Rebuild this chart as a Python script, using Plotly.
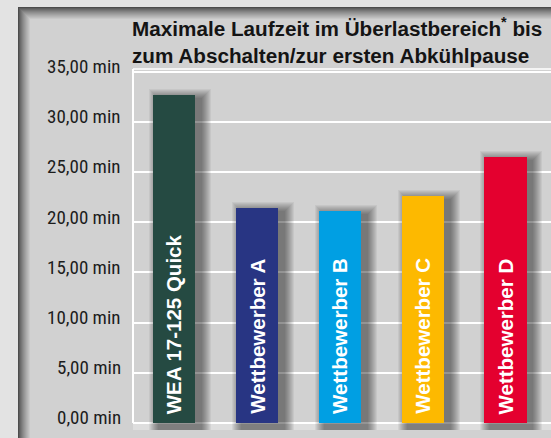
import plotly.graph_objects as go

categories = ["WEA 17-125 Quick", "Wettbewerber A", "Wettbewerber B", "Wettbewerber C", "Wettbewerber D"]
values = [32.7, 21.45, 21.1, 22.6, 26.5]
colors = ["#254a42", "#283583", "#009fe3", "#fdb900", "#e4002f"]
tick_values = [0, 5, 10, 15, 20, 25, 30, 35]
tick_labels = ["0,00 min", "5,00 min", "10,00 min", "15,00 min", "20,00 min", "25,00 min", "30,00 min", "35,00 min"]
title_text = "Maximale Laufzeit im Überlastbereich<sup>*</sup> bis<br>zum Abschalten/zur ersten Abkühlpause"

W, H = 551, 438
L, T, B, R = 133, 69, 8, 0
YMIN, YMAX = -0.7, 35.25
XMIN, XMAX = -0.5, 4.55
px_per_x = (W - L - R) / (XMAX - XMIN)
px_per_y = (H - T - B) / (YMAX - YMIN)

fig = go.Figure()
xs = list(range(len(categories)))
BW = 0.51

# soft drop shadows (layers)
NL = 10
for k in range(1, NL + 1):
    e = 1.0 * k
    wpx = 42 + 2 * e
    fig.add_trace(go.Bar(
        x=xs, y=[v - (4 - e) / px_per_y + 0.9 for v in values], base=-0.9,
        width=wpx / px_per_x, offset=-(wpx / 2 - 6) / px_per_x,
        marker=dict(color="rgba(0,0,0,0.05)", line=dict(width=0)),
        hoverinfo="skip", showlegend=False,
    ))

fig.add_trace(go.Bar(
    x=xs, y=values, width=BW,
    marker=dict(color=colors, line=dict(width=0)),
    hoverinfo="x+y", showlegend=False,
))

shapes = []
# outer light frame
shapes.append(dict(type="rect", xref="paper", yref="paper", xsizemode="pixel", ysizemode="pixel",
                   xanchor=0, yanchor=1, x0=-L, x1=W, y0=T, y1=T - 7,
                   fillcolor="#e3e3e3", line=dict(width=0), layer="below"))
shapes.append(dict(type="rect", xref="paper", yref="paper", xsizemode="pixel", ysizemode="pixel",
                   xanchor=0, yanchor=1, x0=-L, x1=-L + 18, y0=T, y1=-H,
                   fillcolor="#e3e3e3", line=dict(width=0), layer="below"))
# inner shadow of panel
n = 13
for i in range(n):
    t = i / (n - 1)
    g = int(0x4c + (0xd1 - 0x4c) * (t ** 0.8))
    col = "rgb(%d,%d,%d)" % (g, g, g)
    shapes.append(dict(type="rect", xref="paper", yref="paper", xsizemode="pixel", ysizemode="pixel",
                       xanchor=0, yanchor=1, x0=-L + 18 + i, x1=W, y0=T - 7 - i, y1=T - 8 - i,
                       fillcolor=col, line=dict(width=0), layer="below"))
    shapes.append(dict(type="rect", xref="paper", yref="paper", xsizemode="pixel", ysizemode="pixel",
                       xanchor=0, yanchor=1, x0=-L + 18 + i, x1=-L + 19 + i, y0=T - 7 - i, y1=-H,
                       fillcolor=col, line=dict(width=0), layer="below"))
# light band under baseline
shapes.append(dict(type="rect", xref="paper", yref="y", x0=0, x1=1, y0=YMIN, y1=0,
                   fillcolor="#dedede", line=dict(width=0), layer="below"))
# top frame line
shapes.append(dict(type="line", xref="paper", yref="paper", x0=0, x1=1, y0=1, y1=1,
                   line=dict(color="white", width=1.5), layer="below"))
# left frame line
shapes.append(dict(type="line", xref="paper", yref="y", x0=0, x1=0, y0=0, y1=YMAX,
                   line=dict(color="white", width=2), layer="above"))

annotations = []
for v, lab in zip(tick_values, tick_labels):
    annotations.append(dict(x=0, xref="paper", y=v, yref="y", text=lab, showarrow=False,
                            xanchor="right", yanchor="middle", xshift=-10, yshift=5,
                            font=dict(family="Liberation Sans Narrow, Roboto Condensed, Roboto, sans-serif",
                                      size=19, color="#1c1c1c")))
for i, lab in enumerate(categories):
    annotations.append(dict(x=i, xref="x", y=0, yref="y", text=lab, showarrow=False,
                            textangle=-90, xanchor="center", yanchor="bottom", yshift=7,
                            font=dict(family="Liberation Sans, Arial, sans-serif", size=20.5,
                                      color="white", weight=700)))
annotations.append(dict(x=0, xref="paper", y=1, yref="paper", text=title_text, showarrow=False,
                        xanchor="left", yanchor="bottom", align="left", xshift=-3, yshift=0,
                        font=dict(family="Liberation Sans, Arial, sans-serif", size=20.7,
                                  color="#141414", weight=700)))

fig.update_layout(
    width=W, height=H,
    margin=dict(l=L, r=R, t=T, b=B, pad=0),
    paper_bgcolor="#d1d1d1", plot_bgcolor="#d1d1d1",
    barmode="overlay", bargap=0,
    shapes=shapes, annotations=annotations,
    xaxis=dict(range=[XMIN, XMAX], showgrid=False, zeroline=False, showticklabels=False,
               ticks="", showline=False, fixedrange=True),
    yaxis=dict(range=[YMIN, YMAX], tickvals=tick_values, showticklabels=False, ticks="",
               showgrid=True, gridcolor="white", gridwidth=1.5,
               zeroline=True, zerolinecolor="white", zerolinewidth=2,
               showline=False, fixedrange=True),
)

fig.write_html("out.html", config={"displayModeBar": False},
               post_script="document.body.style.margin='0';document.body.style.overflow='hidden';")
